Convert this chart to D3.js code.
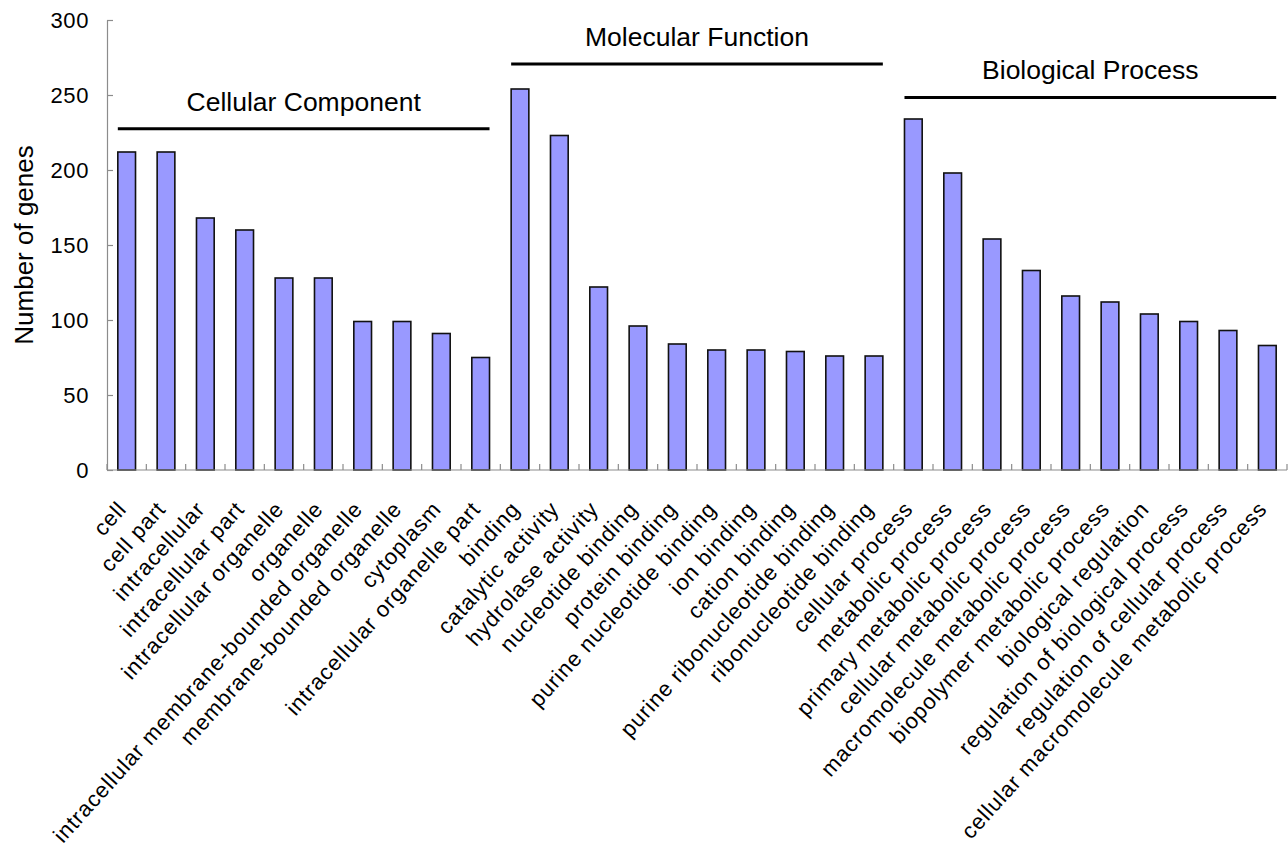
<!DOCTYPE html>
<html>
<head>
<meta charset="utf-8">
<script src="https://cdn.jsdelivr.net/npm/d3@7"></script>
<style>
  html, body { margin: 0; padding: 0; background: #fff; }
  svg { display: block; font-family: "Liberation Sans", Arial, sans-serif; }
</style>
</head>
<body>
<svg id="chart" width="1288" height="851"></svg>
<script>
// GO term categories, in plotting order
const cellularComponent = [
  "cell", "cell part", "intracellular", "intracellular part",
  "intracellular organelle", "organelle",
  "intracellular membrane-bounded organelle", "membrane-bounded organelle",
  "cytoplasm", "intracellular organelle part"
];
const molecularFunction = [
  "binding", "catalytic activity", "hydrolase activity", "nucleotide binding",
  "protein binding", "purine nucleotide binding", "ion binding", "cation binding",
  "purine ribonucleotide binding", "ribonucleotide binding"
];
const biologicalProcess = [
  "cellular process", "metabolic process", "primary metabolic process",
  "cellular metabolic process", "macromolecule metabolic process",
  "biopolymer metabolic process", "biological regulation",
  "regulation of biological process", "regulation of cellular process",
  "cellular macromolecule metabolic process"
];

// Number of genes per term
const ccCounts = [212, 212, 168, 160, 128, 128, 99, 99, 91, 75];
const mfCounts = [254, 223, 122, 96, 84, 80, 80, 79, 76, 76];
const bpCounts = [234, 198, 154, 133, 116, 112, 104, 99, 93, 83];

const groupNames = ["Cellular Component", "Molecular Function", "Biological Process"];
const yTicks = [0, 50, 100, 150, 200, 250, 300];

// ---- layout ----
const svg = d3.select("#chart");
const plotLeft = 107, plotRight = 1287, plotTop = 20, plotBottom = 470;
const bracketLevel = [227.5, 270.7, 248.4];   // bracket height per group, in gene counts

const groups = [
  { name: groupNames[0], terms: cellularComponent, counts: ccCounts },
  { name: groupNames[1], terms: molecularFunction, counts: mfCounts },
  { name: groupNames[2], terms: biologicalProcess, counts: bpCounts }
];
const rows = groups.flatMap(g => g.terms.map((t, i) => ({ term: t, count: g.counts[i] })));

const x = d3.scaleBand()
  .domain(rows.map(d => d.term))
  .range([plotLeft, plotRight])
  .paddingInner(0.55)
  .paddingOuter(0.275);
const y = d3.scaleLinear().domain([0, 300]).range([plotBottom, plotTop]);
const step = x.step();

const axisColor = "#8c8c8c";

// y axis
const yAxis = svg.append("g")
  .attr("transform", `translate(${plotLeft},0)`)
  .call(d3.axisLeft(y).tickValues(yTicks).tickSizeInner(-6).tickSizeOuter(0).tickPadding(18));
yAxis.select(".domain").attr("stroke", axisColor).attr("stroke-width", 1.2);
yAxis.selectAll(".tick line").attr("stroke", axisColor).attr("stroke-width", 1.2);
yAxis.selectAll(".tick text")
  .attr("fill", "#000")
  .style("font-size", "22px")
  .style("letter-spacing", "0.6px")
  .style("font-family", "'Liberation Sans', Arial, sans-serif");

// y axis title
svg.append("text")
  .attr("transform", `translate(33,245) rotate(-90)`)
  .attr("text-anchor", "middle")
  .style("font-size", "26px")
  .text("Number of genes");

// bars
svg.append("g").selectAll("rect")
  .data(rows)
  .join("rect")
  .attr("x", d => x(d.term))
  .attr("y", d => y(d.count))
  .attr("width", x.bandwidth())
  .attr("height", d => y(0) - y(d.count))
  .attr("fill", "#9999ff")
  .attr("stroke", "#111")
  .attr("stroke-width", 1.6);

// x axis baseline and category separators
const xg = svg.append("g");
xg.append("line")
  .attr("x1", plotLeft).attr("x2", plotRight)
  .attr("y1", y(0)).attr("y2", y(0))
  .attr("stroke", axisColor).attr("stroke-width", 1.2);
const boundaries = d3.range(rows.length + 1).map(i => plotLeft + i * step);
xg.selectAll("line.sep")
  .data(boundaries)
  .join("line")
  .attr("class", "sep")
  .attr("x1", d => d).attr("x2", d => d)
  .attr("y1", y(0)).attr("y2", y(0) - 6)
  .attr("stroke", axisColor).attr("stroke-width", 1.2);

// rotated category labels
xg.selectAll("text")
  .data(rows)
  .join("text")
  .attr("transform", d => `translate(${x(d.term) + x.bandwidth() / 2 + 1},${y(0) + 40}) rotate(-48)`)
  .attr("text-anchor", "end")
  .style("font-size", "22px")
  .style("letter-spacing", "0.9px")
  .text(d => d.term);

// group brackets and titles
let start = 0;
groups.forEach((g, gi) => {
  const first = rows[start].term;
  const last = rows[start + g.terms.length - 1].term;
  const x1 = x(first), x2 = x(last) + x.bandwidth();
  const ly = y(bracketLevel[gi]);
  svg.append("line")
    .attr("x1", x1).attr("x2", x2)
    .attr("y1", ly).attr("y2", ly)
    .attr("stroke", "#000").attr("stroke-width", 3);
  svg.append("text")
    .attr("x", (x1 + x2) / 2)
    .attr("y", ly - 18)
    .attr("text-anchor", "middle")
    .style("font-size", "26.5px")
    .text(g.name);
  start += g.terms.length;
});
</script>
</body>
</html>
